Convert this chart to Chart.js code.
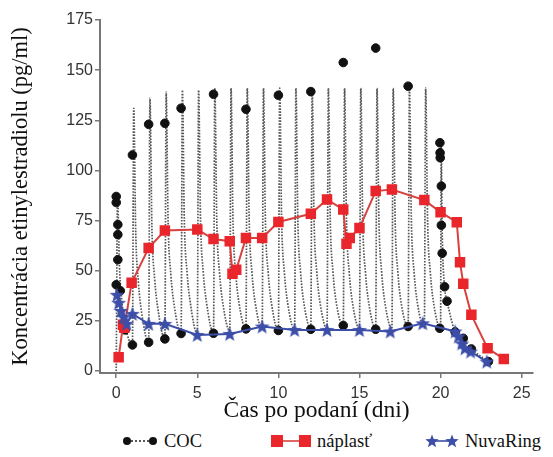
<!DOCTYPE html>
<html>
<head>
<meta charset="utf-8">
<script src="https://cdn.jsdelivr.net/npm/chart.js@4/dist/chart.umd.min.js"></script>
<style>
  body { margin: 0; background: #fff; }
  #wrap { position: relative; width: 553px; height: 457px; }
  #box { position: absolute; left: 0; top: 0; width: 553px; height: 425px; }
  #legenda { position: absolute; left: 0; top: 428px; width: 553px; height: 26px; color: #111; }
  .pol { position: absolute; top: 0; height: 26px; display: flex; align-items: center;
         font-family: "Liberation Serif", "DejaVu Serif", serif; font-size: 18.5px; }
  .pol svg { margin-right: 6px; }
</style>
</head>
<body>
<div id="wrap">
  <div id="box"><canvas id="graf"></canvas></div>
  <div id="legenda">
    <div class="pol" style="left:122px">
      <svg width="36" height="12"><line x1="5" y1="6" x2="31" y2="6" stroke="#222" stroke-width="1.5" stroke-dasharray="2,2"/><circle cx="5" cy="6" r="4" fill="#111"/><circle cx="31" cy="6" r="4" fill="#111"/></svg><span>COC</span>
    </div>
    <div class="pol" style="left:271px">
      <svg width="40" height="14"><line x1="6" y1="7" x2="34" y2="7" stroke="#d9413e" stroke-width="1.6"/><rect x="0" y="1" width="12" height="12" fill="#e8262b"/><rect x="28" y="1" width="12" height="12" fill="#e8262b"/></svg><span>náplasť</span>
    </div>
    <div class="pol" style="left:425px">
      <svg width="34" height="14"><line x1="8" y1="7" x2="26" y2="7" stroke="#3c4ea8" stroke-width="1.6"/><polygon id="hv1" fill="#3c4ea8"/><polygon id="hv2" fill="#3c4ea8"/></svg><span>NuvaRing</span>
    </div>
  </div>
</div>
<script>
// ============================
// DÁTA
// ============================
// COC - namerané body (deň, pg/ml)
const cocX = [0, 0, 0.1, 0.1, 0.1, 0, 0.25, 0.55, 1, 1, 2, 2, 3, 3, 4, 4, 6, 6, 8, 8, 10, 10,
  12, 12, 14, 14, 16, 16, 18, 18, 19.95, 19.96, 19.97, 19.98, 20.05, 20.05, 20.1, 20.25, 20.4, 20.9, 21.4, 21.9, 22.95];
const cocY = [87, 84, 73, 68, 55.5, 43, 40, 20.5, 107.7, 13, 123, 14.3, 123.5, 16, 131, 18.7, 138, 18.8, 130.5, 21, 137.5, 20.2,
  139.3, 20.8, 153.8, 22.7, 161, 20.8, 142, 22.2, 21.3, 113.8, 108.8, 106.3, 92.2, 72.7, 58.7, 42, 34.8, 19.5, 16.3, 11, 4.7];

// COC - bodkovaná krivka: posun od dávky (dni) a hodnoty pre každý deň užitia
const cocDavkaDni = [0, 1, 2, 3, 4, 5, 6, 7, 8, 9, 10, 11, 12, 13, 14, 15, 16, 17, 18, 19];
const cocPosun = [0, 0.08, 0.2, 0.37, 0.57];
const cocKrivka = [
  [0, 87, 52, 33, 22],
  [13, 131, 70, 44, 29],
  [14, 136, 72, 46, 31],
  [16, 139, 74, 48, 33],
  [18.5, 140, 75, 49, 34],
  [18.5, 140, 75, 49, 34],
  [19, 141, 75, 49, 34],
  [20, 141, 75, 49, 34],
  [21, 141, 75, 49, 34],
  [21, 141, 75, 49, 34],
  [20, 141, 75, 49, 34],
  [20.5, 141, 75, 49, 34],
  [21, 141, 75, 49, 34],
  [21, 141, 75, 49, 34],
  [22.5, 141, 75, 49, 34],
  [21, 141, 75, 49, 34],
  [21, 141, 75, 49, 34],
  [21, 141, 75, 49, 34],
  [22, 141, 75, 49, 34],
  [21.5, 141, 75, 49, 34]
];
// posledná dávka (deň 20) a pokles
const cocKoniecX = [20, 20.04, 20.1, 20.25, 20.4, 20.9, 21.4, 21.9, 22.95];
const cocKoniecY = [21, 114, 70, 42, 35, 19.5, 16, 11, 4.7];

// náplasť
const naplastX = [0.15, 0.42, 0.5, 0.95, 2, 3, 5, 6, 7, 7.17, 7.4, 8, 9, 10, 12, 13, 14, 14.2, 14.4, 15, 16, 17, 19, 20, 21, 21.2, 21.4, 21.9, 22.9, 23.9];
const naplastY = [6.8, 23, 21.5, 44, 61.3, 70, 70.5, 65.8, 64.7, 48.5, 50.5, 66.3, 66.3, 74.3, 78.4, 85.5, 80.5, 63.5, 66.3, 71.3, 89.7, 90.5, 85.2, 79.2, 74.2, 54.2, 43.5, 28, 11.3, 6];

// NuvaRing
const nuvaX = [0.05, 0.15, 0.3, 0.45, 0.65, 1, 2, 3, 5, 7, 9, 11, 13, 15, 16.9, 18.9, 20.9, 21.1, 21.3, 21.5, 21.85, 22.85];
const nuvaY = [38, 34, 30, 27, 23.5, 28.5, 23.5, 23.5, 18, 18.5, 22.2, 20.5, 20.5, 20.5, 19.7, 23.8, 19.7, 17.2, 13.8, 11.3, 9.7, 4.7];

const xTicks = [0, 5, 10, 15, 20, 25];
const yTicks = [0, 25, 50, 75, 100, 125, 150, 175];

// ============================
// POMOCNÉ
// ============================
function bodyHviezdy(cx, cy, rv, rm) {
  const p = [];
  for (let i = 0; i < 10; i++) {
    const r = i % 2 ? rm : rv;
    const a = -Math.PI / 2 + i * Math.PI / 5;
    p.push((cx + r * Math.cos(a)).toFixed(2) + ',' + (cy + r * Math.sin(a)).toFixed(2));
  }
  return p.join(' ');
}
document.getElementById('hv1').setAttribute('points', bodyHviezdy(7, 7.5, 7, 3));
document.getElementById('hv2').setAttribute('points', bodyHviezdy(27, 7.5, 7, 3));

const hviezda = document.createElement('canvas');
hviezda.width = 16; hviezda.height = 16;
(function () {
  const c = hviezda.getContext('2d');
  c.fillStyle = '#3c4ea8';
  c.beginPath();
  for (let i = 0; i < 10; i++) {
    const r = i % 2 ? 3.3 : 7.8;
    const a = -Math.PI / 2 + i * Math.PI / 5;
    const x = 8 + r * Math.cos(a), y = 8.6 + r * Math.sin(a);
    i ? c.lineTo(x, y) : c.moveTo(x, y);
  }
  c.closePath();
  c.fill();
})();

const zip = (xs, ys) => xs.map((x, i) => ({ x, y: ys[i] }));

const krivka = [];
cocDavkaDni.forEach((d, i) => {
  cocPosun.forEach((o, j) => krivka.push({ x: d + o, y: cocKrivka[i][j] }));
});
cocKoniecX.forEach((x, i) => krivka.push({ x, y: cocKoniecY[i] }));

// ============================
// GRAF
// ============================
const sans = '"Liberation Sans", Arial, sans-serif';
const serif = '"Liberation Serif", "Times New Roman", serif';

new Chart(document.getElementById('graf'), {
  type: 'scatter',
  data: {
    datasets: [
      { label: 'NuvaRing', data: zip(nuvaX, nuvaY), showLine: true, borderColor: '#3c4ea8', borderWidth: 2,
        pointStyle: hviezda, order: 1 },
      { label: 'náplasť', data: zip(naplastX, naplastY), showLine: true, borderColor: '#d9413e', borderWidth: 2,
        pointStyle: 'rect', pointRadius: 6, backgroundColor: '#e8262b', pointBorderColor: '#e8262b', order: 2 },
      { label: 'COC', data: zip(cocX, cocY), showLine: false, pointRadius: 4.3, backgroundColor: '#111',
        pointBorderColor: '#111', order: 3 },
      { label: 'COC krivka', data: krivka, showLine: true, pointRadius: 0, borderColor: '#555',
        borderWidth: 1.7, borderDash: [1.6, 1.4], cubicInterpolationMode: 'monotone', order: 4 }
    ]
  },
  options: {
    responsive: true,
    maintainAspectRatio: false,
    animation: false,
    layout: { padding: { top: 20, right: 20, left: 0, bottom: 0 } },
    plugins: { legend: { display: false }, tooltip: { enabled: false } },
    scales: {
      x: {
        type: 'linear', min: -1, max: 25.7,
        afterBuildTicks: s => { s.ticks = xTicks.map(v => ({ value: v })); },
        afterFit: s => { s.height = 52; },
        grid: { drawOnChartArea: false, drawTicks: true, tickLength: 5, color: '#777', lineWidth: 1.5 },
        border: { color: '#777', width: 2 },
        ticks: { font: { family: sans, size: 16 }, color: '#333', padding: 6, maxRotation: 0 },
        title: { display: true, text: 'Čas po podaní (dni)', font: { family: serif, size: 23.5 }, color: '#111',
                 padding: { top: 0, bottom: 0 } }
      },
      y: {
        type: 'linear', min: -1, max: 175,
        afterBuildTicks: s => { s.ticks = yTicks.map(v => ({ value: v })); },
        afterFit: s => { s.width = 100; },
        grid: { drawOnChartArea: false, drawTicks: true, tickLength: 5, color: '#777', lineWidth: 1.5 },
        border: { color: '#777', width: 2 },
        ticks: { font: { family: sans, size: 16 }, color: '#333', padding: 2 },
        title: { display: true, text: 'Koncentrácia etinylestradiolu (pg/ml)', font: { family: serif, size: 22.5 },
                 color: '#111', padding: { top: 8, bottom: 0 } }
      }
    }
  }
});
</script>
</body>
</html>
